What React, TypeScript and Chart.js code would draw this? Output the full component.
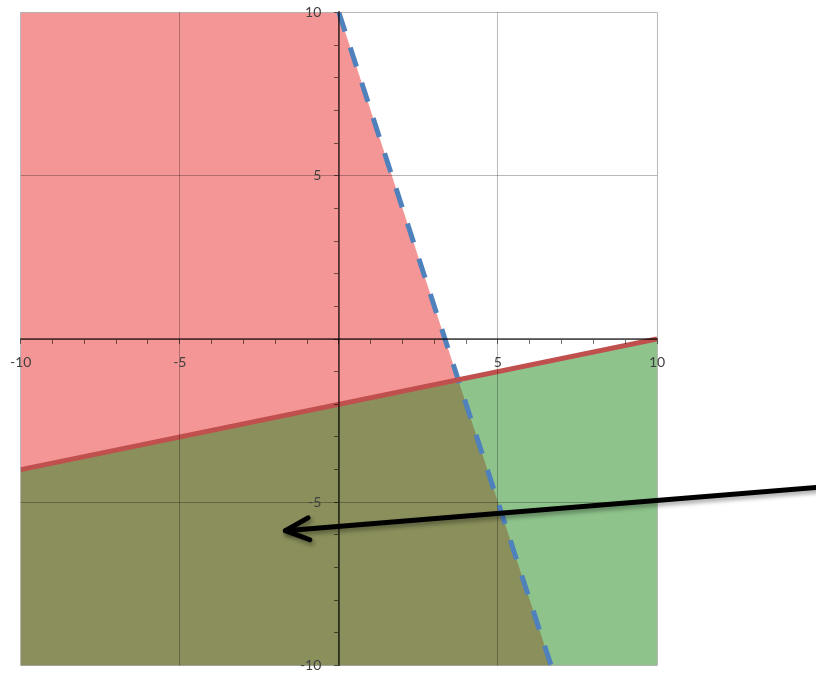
import React, { useEffect, useRef } from "react";
import { Chart, registerables } from "chart.js";

Chart.register(...registerables);

// Boundary lines
const BLUE_LINE_X = [0, 6.67];
const BLUE_LINE_Y = [10, -10];
const RED_LINE_X = [-10, 10];
const RED_LINE_Y = [-4, 0];

// Shaded regions (upper boundary, filled down to the bottom of the axis)
const RED_REGION_X = [-10, 0, 6.67];
const RED_REGION_Y = [10, 10, -10];
const GREEN_REGION_X = [-10, 10];
const GREEN_REGION_Y = [-4, 0];
const OVERLAP_REGION_X = [-10, 3.75, 6.67];
const OVERLAP_REGION_Y = [-4, -1.25, -10];

// Annotation arrow (from, to)
const ARROW_X = [15, -1.68];
const ARROW_Y = [-4.55, -5.87];

// Tick labels shown
const TICK_LABELS = [-10, -5, 5, 10];

const toPoints = (xs: number[], ys: number[]) => xs.map((x, i) => ({ x, y: ys[i] }));

const arrowPlugin = {
  id: "arrowAnnotation",
  afterDraw(chart: any) {
    const { ctx, scales } = chart;
    const xs = scales.x;
    const ys = scales.y;
    const x1 = xs.getPixelForValue(ARROW_X[0]);
    const y1 = ys.getPixelForValue(ARROW_Y[0]);
    const x2 = xs.getPixelForValue(ARROW_X[1]);
    const y2 = ys.getPixelForValue(ARROW_Y[1]);
    const back = Math.atan2(y1 - y2, x1 - x2);
    const th = (25 * Math.PI) / 180;
    const L = 26;
    ctx.save();
    ctx.shadowColor = "rgba(0,0,0,0.35)";
    ctx.shadowBlur = 4;
    ctx.shadowOffsetX = 2;
    ctx.shadowOffsetY = 3;
    ctx.strokeStyle = "#000000";
    ctx.lineWidth = 5;
    ctx.lineCap = "round";
    ctx.lineJoin = "round";
    ctx.beginPath();
    ctx.moveTo(x1, y1);
    ctx.lineTo(x2, y2);
    ctx.stroke();
    ctx.beginPath();
    ctx.moveTo(x2 + L * Math.cos(back - th), y2 + L * Math.sin(back - th));
    ctx.lineTo(x2, y2);
    ctx.lineTo(x2 + L * Math.cos(back + th), y2 + L * Math.sin(back + th));
    ctx.stroke();
    ctx.restore();
  },
};

const gridColor = (c: any) =>
  Math.abs(c.tick?.value ?? 1) % 5 === 0 ? "rgba(0,0,0,0.28)" : "rgba(0,0,0,0)";

const xTickCb = (v: any) => (TICK_LABELS.includes(Number(v)) ? String(v) : "");
// y labels of a centred axis are drawn flush against it; keep a gap after the text
const yTickCb = (v: any) => (TICK_LABELS.includes(Number(v)) ? String(v) + "\u2003\u2002" : "");

export default function App() {
  const ref = useRef<HTMLCanvasElement | null>(null);

  useEffect(() => {
    if (!ref.current) return;
    const fillBase = {
      borderColor: "transparent",
      borderWidth: 0,
      pointRadius: 0,
      pointHoverRadius: 0,
      tension: 0,
    };
    const axisCommon = (padding: number, callback: any) => ({
      type: "linear",
      min: -10,
      max: 10,
      grid: {
        color: gridColor,
        tickColor: "rgba(0,0,0,0.55)",
        tickLength: 4,
        lineWidth: 1,
        z: 1,
      },
      border: { color: "rgba(0,0,0,0.55)", width: 2, z: 1 },
      ticks: {
        stepSize: 1,
        autoSkip: false,
        maxRotation: 0,
        padding,
        color: "#404040",
        font: { family: "Lato", size: 14 },
        callback,
        z: 1,
      },
    });
    const chart = new Chart(ref.current, {
      type: "line",
      data: {
        datasets: [
          {
            label: "red line",
            data: toPoints(RED_LINE_X, RED_LINE_Y),
            borderColor: "#C0504D",
            borderWidth: 5,
            pointRadius: 0,
            fill: false,
            order: 0,
          },
          {
            label: "blue line",
            data: toPoints(BLUE_LINE_X, BLUE_LINE_Y),
            borderColor: "#4F81BD",
            borderWidth: 5,
            borderDash: [20, 17],
            pointRadius: 0,
            fill: false,
            order: 1,
          },
          {
            ...fillBase,
            label: "overlap",
            data: toPoints(OVERLAP_REGION_X, OVERLAP_REGION_Y),
            backgroundColor: "#8A8F5B",
            fill: "start",
            order: 2,
          },
          {
            ...fillBase,
            label: "green",
            data: toPoints(GREEN_REGION_X, GREEN_REGION_Y),
            backgroundColor: "#8EC48C",
            fill: "start",
            order: 3,
          },
          {
            ...fillBase,
            label: "red",
            data: toPoints(RED_REGION_X, RED_REGION_Y),
            backgroundColor: "#F59696",
            fill: "start",
            order: 4,
          },
        ],
      } as any,
      options: {
        animation: false,
        responsive: false,
        maintainAspectRatio: false,
        layout: { padding: { left: 20, top: 4, right: 159, bottom: 0 } },
        plugins: {
          legend: { display: false },
          tooltip: { enabled: false },
          filler: { drawTime: "beforeDatasetsDraw" },
        },
        scales: {
          x: { ...axisCommon(11, xTickCb), position: { y: 0 } },
          y: { ...axisCommon(12, yTickCb), position: { x: 0 } },
        },
      } as any,
      plugins: [arrowPlugin],
    });
    return () => chart.destroy();
  }, []);

  return (
    <div style={{ position: "absolute", left: 0, top: 0, width: 816, height: 674, overflow: "hidden", background: "#fff" }}>
      <canvas
        ref={ref}
        width={817}
        height={694}
        style={{ position: "absolute", left: -1, top: -8, width: 817, height: 694, display: "block" }}
      />
    </div>
  );
}
